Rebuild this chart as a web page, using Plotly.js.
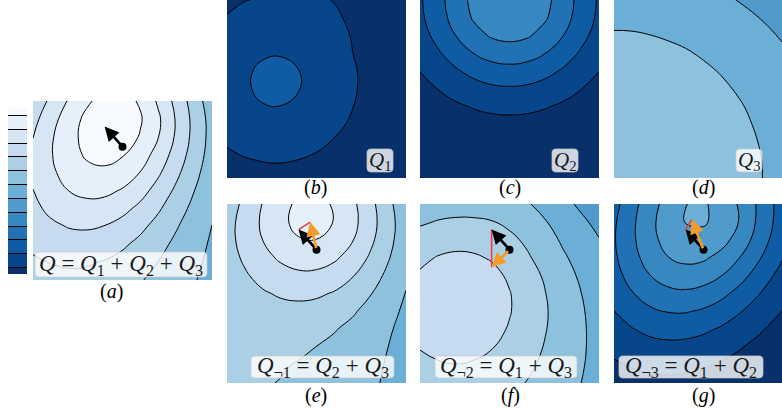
<!DOCTYPE html>
<html>
<head>
<meta charset="utf-8">
<script src="https://cdn.plot.ly/plotly-3.0.1.min.js"></script>
<style>
  html, body { margin: 0; padding: 0; background: #fff; }
  #chart { width: 782px; height: 410px; }
</style>
</head>
<body>
<div id="chart"></div>
<script>
// grid of the unit square shown in every panel
const gridX = [0, 0.1, 0.2, 0.3, 0.4, 0.5, 0.6, 0.7, 0.8, 0.9, 1.0];
const gridY = [0, 0.1, 0.2, 0.3, 0.4, 0.5, 0.6, 0.7, 0.8, 0.9, 1.0];

// component fields, one row per gridY value (bottom row first)
const q1Grid = [
  [0.56, 0.66, 0.72, 0.73, 0.69, 0.60, 0.49, 0.37, 0.26, 0.17, 0.11],
  [0.81, 0.95, 1.03, 1.05, 0.99, 0.87, 0.71, 0.54, 0.38, 0.25, 0.15],
  [1.07, 1.26, 1.38, 1.40, 1.32, 1.16, 0.94, 0.71, 0.50, 0.33, 0.20],
  [1.33, 1.56, 1.71, 1.73, 1.63, 1.43, 1.17, 0.89, 0.62, 0.41, 0.25],
  [1.53, 1.80, 1.97, 1.99, 1.88, 1.65, 1.35, 1.02, 0.72, 0.47, 0.29],
  [1.64, 1.93, 2.11, 2.14, 2.02, 1.77, 1.44, 1.09, 0.77, 0.51, 0.31],
  [1.64, 1.92, 2.10, 2.13, 2.01, 1.76, 1.44, 1.09, 0.77, 0.50, 0.31],
  [1.52, 1.78, 1.94, 1.97, 1.86, 1.63, 1.33, 1.01, 0.71, 0.47, 0.28],
  [1.31, 1.53, 1.67, 1.70, 1.62, 1.48, 1.25, 0.96, 0.64, 0.40, 0.24],
  [1.05, 1.23, 1.36, 1.42, 1.42, 1.30, 1.12, 0.86, 0.52, 0.32, 0.20],
  [0.78, 0.98, 1.05, 1.12, 1.20, 1.10, 0.97, 0.62, 0.42, 0.26, 0.15]
];
const q2Grid = [
  [0.04, 0.05, 0.07, 0.09, 0.10, 0.10, 0.10, 0.09, 0.07, 0.05, 0.04],
  [0.08, 0.11, 0.15, 0.18, 0.20, 0.21, 0.20, 0.18, 0.15, 0.11, 0.08],
  [0.15, 0.22, 0.29, 0.35, 0.39, 0.41, 0.39, 0.35, 0.29, 0.22, 0.15],
  [0.28, 0.39, 0.52, 0.63, 0.71, 0.74, 0.71, 0.63, 0.52, 0.39, 0.28],
  [0.46, 0.66, 0.86, 1.05, 1.18, 1.22, 1.18, 1.05, 0.86, 0.66, 0.46],
  [0.71, 1.01, 1.32, 1.61, 1.81, 1.88, 1.81, 1.61, 1.32, 1.01, 0.71],
  [1.01, 1.43, 1.88, 2.28, 2.57, 2.67, 2.57, 2.28, 1.88, 1.43, 1.01],
  [1.32, 1.88, 2.47, 3.00, 3.37, 3.51, 3.37, 3.00, 2.47, 1.88, 1.32],
  [1.61, 2.28, 3.00, 3.65, 4.10, 4.26, 4.10, 3.65, 3.00, 2.28, 1.61],
  [1.81, 2.57, 3.37, 4.10, 4.61, 4.79, 4.61, 4.10, 3.37, 2.57, 1.81],
  [1.88, 2.67, 3.51, 4.26, 4.79, 4.98, 4.79, 4.26, 3.51, 2.67, 1.88]
];
const q3Grid = [
  [7.99, 7.98, 7.97, 7.89, 7.78, 7.64, 7.47, 7.28, 7.07, 6.83, 6.58],
  [7.98, 7.97, 7.95, 7.87, 7.76, 7.63, 7.46, 7.27, 7.06, 6.82, 6.57],
  [7.97, 7.95, 7.90, 7.82, 7.72, 7.58, 7.42, 7.23, 7.01, 6.78, 6.53],
  [7.89, 7.87, 7.82, 7.75, 7.64, 7.50, 7.34, 7.15, 6.94, 6.71, 6.46],
  [7.78, 7.76, 7.72, 7.64, 7.53, 7.40, 7.24, 7.06, 6.85, 6.62, 6.37],
  [7.64, 7.63, 7.58, 7.50, 7.40, 7.27, 7.11, 6.93, 6.73, 6.50, 6.26],
  [7.47, 7.46, 7.42, 7.34, 7.24, 7.11, 6.96, 6.78, 6.58, 6.36, 6.13],
  [7.28, 7.27, 7.23, 7.15, 7.06, 6.93, 6.78, 6.61, 6.41, 6.20, 5.97],
  [7.07, 7.06, 7.01, 6.94, 6.85, 6.73, 6.58, 6.41, 6.22, 6.02, 5.79],
  [6.83, 6.82, 6.78, 6.71, 6.62, 6.50, 6.36, 6.20, 6.02, 5.82, 5.60],
  [6.58, 6.57, 6.53, 6.46, 6.37, 6.26, 6.13, 5.97, 5.79, 5.60, 5.39]
];

// marked point and the gradient of each component there
const arrowPoint = [0.50, 0.745];
const gradQ1 = [-0.065, -0.042];
const gradQ2 = [0.0, 0.21];
const gradQ3 = [-0.035, -0.056];

const panelTags = ['a', 'b', 'c', 'd', 'e', 'f', 'g'];
const panelNames = [
  '<i>Q</i> = <i>Q</i><sub>1</sub> + <i>Q</i><sub>2</sub> + <i>Q</i><sub>3</sub>',
  '<i>Q</i><sub>1</sub>',
  '<i>Q</i><sub>2</sub>',
  '<i>Q</i><sub>3</sub>',
  '<i>Q</i><sub>¬1</sub> = <i>Q</i><sub>2</sub> + <i>Q</i><sub>3</sub>',
  '<i>Q</i><sub>¬2</sub> = <i>Q</i><sub>1</sub> + <i>Q</i><sub>3</sub>',
  '<i>Q</i><sub>¬3</sub> = <i>Q</i><sub>1</sub> + <i>Q</i><sub>2</sub>'
];

function addGrids(...grids) {
  return grids[0].map((row, j) => row.map((v, i) => grids.reduce((s, g) => s + g[j][i], 0)));
}
function addVec(...vs) {
  return [vs.reduce((s, v) => s + v[0], 0), vs.reduce((s, v) => s + v[1], 0)];
}

const fields = [
  addGrids(q1Grid, q2Grid, q3Grid),
  q1Grid, q2Grid, q3Grid,
  addGrids(q2Grid, q3Grid),
  addGrids(q1Grid, q3Grid),
  addGrids(q1Grid, q2Grid)
];

const W = 782, H = 410, SIDE = 179;
// pixel boxes [left, top, right, bottom]
const boxes = [
  [33, 101, 212, 280],
  [227, 0, 406, 178], [420, 0, 599, 178], [614, 0, 782, 178],
  [227, 204, 406, 383], [420, 204, 599, 383], [614, 204, 782, 383]
];
// rounded label boxes [left, top, right, bottom]
const nameBoxes = [
  [35, 252, 207, 277],
  [367, 149, 393, 172], [552, 149, 578, 172], [736, 149, 762, 172],
  [251, 356, 394, 378], [435, 356, 577, 378], [619, 356, 763, 378]
];
const nameSizes = [23, 21, 21, 21, 23, 23, 23];
const tagPos = [[111, 291], [315, 188], [510, 188], [703, 188], [316, 395], [510, 395], [703, 395]];

const bluesR = [
  '#08306b', '#08468c', '#105ca4', '#2171b5', '#3787c0', '#509bcb', '#6baed6',
  '#8dc1dd', '#abd0e6', '#c6dbef', '#d6e6f4', '#e6f0fa', '#f7fbff'
];
const colorscale = bluesR.map((c, i) => [i / 12, c]);

const serif = 'Liberation Serif, DejaVu Serif, serif';
const traces = [];
const layout = {
  width: W, height: H,
  margin: {l: 0, r: 0, t: 0, b: 0},
  paper_bgcolor: '#fff', plot_bgcolor: '#fff',
  showlegend: false,
  annotations: [], shapes: []
};

function roundRect(l, t, r, b, rad) {
  const px = v => (v / W).toFixed(5), py = v => ((H - v) / H).toFixed(5);
  return 'M' + px(l + rad) + ',' + py(t) + ' L' + px(r - rad) + ',' + py(t) +
    ' Q' + px(r) + ',' + py(t) + ' ' + px(r) + ',' + py(t + rad) +
    ' L' + px(r) + ',' + py(b - rad) +
    ' Q' + px(r) + ',' + py(b) + ' ' + px(r - rad) + ',' + py(b) +
    ' L' + px(l + rad) + ',' + py(b) +
    ' Q' + px(l) + ',' + py(b) + ' ' + px(l) + ',' + py(b - rad) +
    ' L' + px(l) + ',' + py(t + rad) +
    ' Q' + px(l) + ',' + py(t) + ' ' + px(l + rad) + ',' + py(t) + ' Z';
}

fields.forEach((z, k) => {
  const id = k === 0 ? '' : String(k + 1);
  const [l, t, r, b] = boxes[k];
  const axis = {showgrid: false, zeroline: false, showticklabels: false, ticks: '', showline: false, fixedrange: true};
  layout['xaxis' + id] = Object.assign({}, axis, {domain: [l / W, r / W], range: [0, (r - l) / SIDE], anchor: 'y' + id});
  layout['yaxis' + id] = Object.assign({}, axis, {domain: [(H - b) / H, (H - t) / H], range: [0, 1], anchor: 'x' + id});
  traces.push({
    type: 'contour', x: gridX, y: gridY, z: z,
    xaxis: 'x' + id, yaxis: 'y' + id,
    colorscale: colorscale, autocontour: false,
    contours: {start: 1, end: 12, size: 1, coloring: 'fill', showlines: true},
    line: {color: '#000', width: 1, smoothing: 1.3},
    hoverinfo: 'skip',
    showscale: k === 0,
    colorbar: {
      x: 8 / W, xanchor: 'left', xpad: 0,
      y: (H - 191) / H, yanchor: 'middle', ypad: 0,
      len: 166, lenmode: 'pixels', thickness: 18.5, thicknessmode: 'pixels',
      showticklabels: false, ticks: '', outlinewidth: 0
    }
  });

  const [bl, bt, br, bb] = nameBoxes[k];
  layout.shapes.push({
    type: 'path', xref: 'paper', yref: 'paper', layer: 'above',
    path: roundRect(bl, bt, br, bb, 4),
    fillcolor: 'rgba(255,255,255,0.8)', line: {color: 'rgba(200,200,200,0.9)', width: 0.8}
  });
  layout.annotations.push({
    xref: 'paper', yref: 'paper', x: (bl + br) / 2 / W, y: (H - (bt + bb) / 2) / H,
    xanchor: 'center', yanchor: 'middle', showarrow: false,
    text: panelNames[k], font: {family: serif, size: nameSizes[k], color: '#1a1a1a'}
  });
  layout.annotations.push({
    xref: 'paper', yref: 'paper', x: tagPos[k][0] / W, y: (H - tagPos[k][1]) / H,
    xanchor: 'center', yanchor: 'middle', showarrow: false,
    text: '(<i>' + panelTags[k] + '</i>)', font: {family: serif, size: 20, color: '#000'}
  });
});

// gradient arrows: total (black), partial sum (orange), missing component (red)
const blackTip = addVec(arrowPoint, gradQ1, gradQ2, gradQ3);
const partial = {4: [gradQ2, gradQ3], 5: [gradQ1, gradQ3], 6: [gradQ1, gradQ2]};
function arrow(xa, ya, tip, color) {
  return {
    xref: xa, yref: ya, axref: xa, ayref: ya,
    x: tip[0], y: tip[1], ax: arrowPoint[0], ay: arrowPoint[1],
    showarrow: true, text: '', arrowhead: 2, arrowsize: 1.05, arrowwidth: 2.7, arrowcolor: color
  };
}
[0, 4, 5, 6].forEach(k => {
  const id = k === 0 ? '' : String(k + 1);
  const xa = 'x' + id, ya = 'y' + id;
  layout.annotations.push(arrow(xa, ya, blackTip, '#000'));
  if (partial[k]) {
    const orangeTip = addVec(arrowPoint, ...partial[k]);
    layout.shapes.push({
      type: 'line', xref: xa, yref: ya, layer: 'above',
      x0: blackTip[0], y0: blackTip[1], x1: orangeTip[0], y1: orangeTip[1],
      line: {color: '#e8403f', width: 1.6}
    });
    layout.annotations.push(arrow(xa, ya, orangeTip, '#f59b2a'));
  }
  traces.push({
    type: 'scatter', mode: 'markers', x: [arrowPoint[0]], y: [arrowPoint[1]],
    xaxis: xa, yaxis: ya, marker: {size: 8, color: '#000'}, hoverinfo: 'skip', showlegend: false
  });
});

Plotly.newPlot('chart', traces, layout, {displayModeBar: false, staticPlot: true});
</script>
</body>
</html>
